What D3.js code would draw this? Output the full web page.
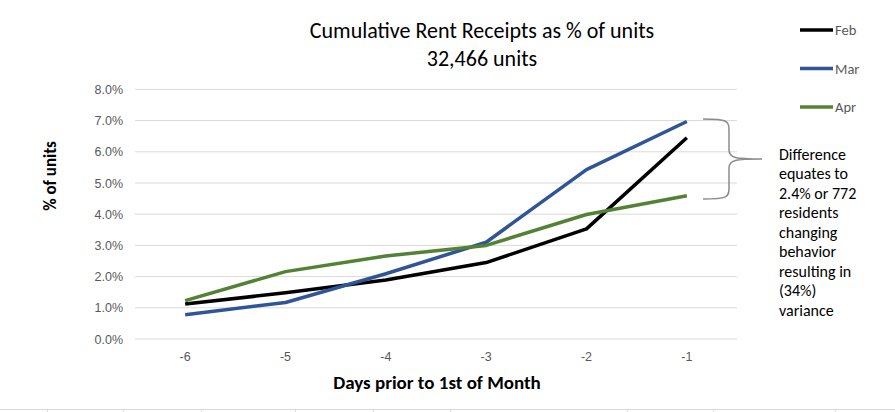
<!DOCTYPE html>
<html>
<head>
<meta charset="utf-8">
<script src="https://cdn.jsdelivr.net/npm/d3@7"></script>
<style>
  html, body { margin: 0; padding: 0; background: #fff; }
  svg { display: block; font-family: Carlito, Calibri, Lato, "Open Sans", sans-serif; }
</style>
</head>
<body>
<svg id="chart" width="895" height="412"></svg>
<script>
const categories = ["-6", "-5", "-4", "-3", "-2", "-1"];
const febValues = [1.12, 1.48, 1.89, 2.45, 3.53, 6.45];
const marValues = [0.78, 1.17, 2.09, 3.10, 5.43, 6.97];
const aprValues = [1.23, 2.16, 2.66, 3.00, 3.99, 4.59];
const seriesNames = ["Feb", "Mar", "Apr"];
const seriesColors = ["#000000", "#2f5597", "#548235"];
const yTicks = [0, 1, 2, 3, 4, 5, 6, 7, 8];
const titleLines = ["Cumulative Rent Receipts as % of units", "32,466 units"];
const xTitle = "Days prior to 1st of Month";
const yTitle = "% of units";
const noteLines = ["Difference", "equates to", "2.4% or 772", "residents", "changing", "behavior", "resulting in", "(34%)", "variance"];
const bottomTicks = [47, 123, 201, 295, 373, 450, 627, 713, 835];

const series = [febValues, marValues, aprValues].map((v, i) => ({ name: seriesNames[i], color: seriesColors[i], values: v }));

const svg = d3.select("#chart");
const plot = { left: 135, right: 737, top: 89.4, bottom: 339 };

const x = d3.scaleBand().domain(categories).range([plot.left, plot.right]);
const y = d3.scaleLinear().domain([0, 8]).range([plot.bottom, plot.top]);

// gridlines
svg.append("g").selectAll("line").data(yTicks).join("line")
  .attr("x1", plot.left).attr("x2", plot.right)
  .attr("y1", d => y(d)).attr("y2", d => y(d))
  .attr("stroke", "#d9d9d9").attr("stroke-width", 1);

// y axis labels
const yAxis = d3.axisLeft(y).tickValues(yTicks).tickFormat(d => d.toFixed(1) + "%").tickSize(0).tickPadding(12);
const ya = svg.append("g").attr("transform", `translate(${plot.left},0)`).call(yAxis);
ya.select(".domain").remove();
ya.selectAll("text").attr("fill", "#595959").style("font-size", "12.5px").style("font-family", "inherit");

// x axis labels
const xAxis = d3.axisBottom(x).tickSize(0).tickPadding(13);
const xa = svg.append("g").attr("transform", `translate(0,${plot.bottom})`).call(xAxis);
xa.select(".domain").remove();
xa.selectAll("text").attr("fill", "#595959").style("font-size", "12.5px").style("font-family", "inherit");

// lines
const line = d3.line().x((d, i) => x(categories[i]) + x.bandwidth() / 2).y(d => y(d));
svg.append("g").selectAll("path").data(series).join("path")
  .attr("d", d => line(d.values))
  .attr("fill", "none").attr("stroke", d => d.color).attr("stroke-width", 3.5)
  .attr("stroke-linejoin", "round");

// titles
svg.append("text").attr("x", 482).attr("y", 37.5).attr("text-anchor", "middle")
  .style("font-size", "22px").attr("fill", "#000").text(titleLines[0]);
svg.append("text").attr("x", 482).attr("y", 65.5).attr("text-anchor", "middle")
  .style("font-size", "22px").attr("fill", "#000").text(titleLines[1]);

svg.append("text").attr("x", 437).attr("y", 389).attr("text-anchor", "middle")
  .style("font-size", "19px").style("font-weight", "bold").attr("fill", "#000").text(xTitle);
svg.append("text").attr("transform", "translate(56,176) rotate(-90)").attr("text-anchor", "middle")
  .style("font-size", "17px").style("font-weight", "bold").attr("fill", "#000").text(yTitle);

// legend
const leg = svg.append("g").selectAll("g").data(series).join("g")
  .attr("transform", (d, i) => `translate(800,${30 + i * 38.5})`);
leg.append("line").attr("x1", 0).attr("x2", 33).attr("y1", 0).attr("y2", 0)
  .attr("stroke", d => d.color).attr("stroke-width", 3.5);
leg.append("text").attr("x", 35).attr("y", 5).style("font-size", "14.5px").attr("fill", "#595959").text(d => d.name);

// brace
svg.append("path")
  .attr("d", "M703,119 C728,119 729,121 729,131 L729,150 C729,158 735,159 762,159 C735,159 729,160 729,168 L729,188 C729,197 728,199 703,199")
  .attr("fill", "none").attr("stroke", "#8c8c8c").attr("stroke-width", 1.5);

// note text
svg.append("g").selectAll("text").data(noteLines).join("text")
  .attr("x", 779).attr("y", (d, i) => 159.5 + i * 19.5)
  .style("font-size", "16px").attr("fill", "#000").text(d => d);

// bottom sheet border
svg.append("line").attr("x1", 0).attr("x2", 895).attr("y1", 409.5).attr("y2", 409.5)
  .attr("stroke", "#d9d9d9").attr("stroke-width", 1);
svg.append("g").selectAll("line").data(bottomTicks).join("line")
  .attr("x1", d => d + 0.5).attr("x2", d => d + 0.5).attr("y1", 409.5).attr("y2", 412)
  .attr("stroke", "#d9d9d9").attr("stroke-width", 1);
</script>
</body>
</html>
